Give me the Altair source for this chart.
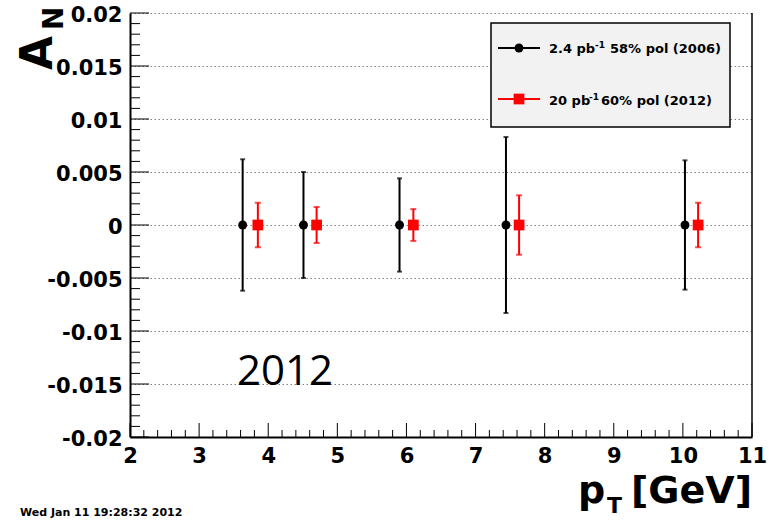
import altair as alt
import pandas as pd

# ---- data ----
pt_2006 = [3.63, 4.51, 5.90, 7.44, 10.03]
an_2006 = [0.0, 0.0, 0.0, 0.0, 0.0]
err_2006 = [0.0062, 0.0050, 0.0044, 0.0083, 0.0061]

pt_2012 = [3.85, 4.70, 6.10, 7.63, 10.22]
an_2012 = [0.0, 0.0, 0.0, 0.0, 0.0]
err_2012 = [0.0021, 0.0017, 0.0015, 0.0028, 0.0021]

x_major = [2, 3, 4, 5, 6, 7, 8, 9, 10, 11]
y_major = [-0.02, -0.015, -0.01, -0.005, 0, 0.005, 0.01, 0.015, 0.02]
x_minor = [round(2 + 0.2 * i, 1) for i in range(46) if i % 5]
y_minor = [round(-0.02 + 0.001 * i, 3) for i in range(41) if i % 5]

legend_2006 = ["2.4 pb", "-1", "58% pol (2006)"]
legend_2012 = ["20 pb", "-1", "60% pol (2012)"]

W, H = 622, 424
FONT = "DejaVu Sans"

d6 = pd.DataFrame({"x": pt_2006, "y": an_2006,
                   "lo": [a - e for a, e in zip(an_2006, err_2006)],
                   "hi": [a + e for a, e in zip(an_2006, err_2006)]})
d12 = pd.DataFrame({"x": pt_2012, "y": an_2012,
                    "lo": [a - e for a, e in zip(an_2012, err_2012)],
                    "hi": [a + e for a, e in zip(an_2012, err_2012)]})
one = pd.DataFrame({"k": [0]})

xs = alt.Scale(domain=[2, 11], nice=False, zero=False)
ys = alt.Scale(domain=[-0.02, 0.02], nice=False, zero=False)

xaxis = alt.Axis(values=x_major, ticks=False, title=None, grid=False,
                 labelFont=FONT, labelFontWeight="bold", labelFontSize=21,
                 labelColor="black", labelPadding=8, labelFlush=False,
                 labelOverlap=False, labelExpr="'' + datum.value",
                 domainColor="black", domainWidth=2)
yaxis = alt.Axis(values=y_major, ticks=False, title=None, grid=True,
                 gridColor="#808080", gridDash=[1.5, 2.5], gridWidth=1,
                 labelFont=FONT, labelFontWeight="bold", labelFontSize=21,
                 labelColor="black", labelPadding=8, labelFlush=False,
                 labelOffset=2,
                 labelOverlap=False, labelExpr="'' + datum.value",
                 domainColor="black", domainWidth=2)

X = lambda f="x": alt.X(f"{f}:Q", scale=xs, axis=xaxis)
Y = lambda f="y": alt.Y(f"{f}:Q", scale=ys, axis=yaxis)


def txt(s, x, y, size, weight="bold", font=FONT, angle=0, align="left", color="black"):
    kw = dict(text=s, font=font, fontWeight=weight, fontSize=size, align=align,
              baseline="alphabetic", color=color)
    if angle:
        kw["angle"] = angle
    return alt.Chart(one).mark_text(**kw).encode(x=alt.value(x), y=alt.value(y))


layers = []

# minor / major ticks drawn inside the frame
layers.append(alt.Chart(pd.DataFrame({"y": y_major})).mark_rule(color="black", strokeWidth=1)
              .encode(y=Y(), x=alt.value(0), x2=alt.value(19)))
layers.append(alt.Chart(pd.DataFrame({"y": y_minor})).mark_rule(color="black", strokeWidth=1)
              .encode(y=Y(), x=alt.value(0), x2=alt.value(10)))
layers.append(alt.Chart(pd.DataFrame({"x": x_major})).mark_rule(color="black", strokeWidth=1)
              .encode(x=X(), y=alt.value(H), y2=alt.value(H - 14)))
layers.append(alt.Chart(pd.DataFrame({"x": x_minor})).mark_rule(color="black", strokeWidth=1)
              .encode(x=X(), y=alt.value(H), y2=alt.value(H - 7)))

# right frame edge
layers.append(alt.Chart(one).mark_rule(color="black", strokeWidth=1.5)
              .encode(x=alt.value(W), y=alt.value(0), y2=alt.value(H)))

# error bars + caps + markers
for d, col, cap, shape, size in [(d6, "black", 5, "circle", 80), (d12, "#ff0000", 6, "square", 115)]:
    layers.append(alt.Chart(d).mark_rule(color=col, strokeWidth=2)
                  .encode(x=X(), y=Y("lo"), y2="hi:Q"))
    layers.append(alt.Chart(d).mark_tick(color=col, orient="horizontal", size=cap, thickness=2)
                  .encode(x=X(), y=Y("hi")))
    layers.append(alt.Chart(d).mark_tick(color=col, orient="horizontal", size=cap, thickness=2)
                  .encode(x=X(), y=Y("lo")))
    layers.append(alt.Chart(d).mark_point(shape=shape, filled=True, size=size, color=col, opacity=1)
                  .encode(x=X(), y=Y()))

# legend box
layers.append(alt.Chart(one).mark_rect(fill="#f2f2f2", stroke="black", strokeWidth=1.5)
              .encode(x=alt.value(361), x2=alt.value(600), y=alt.value(10), y2=alt.value(114)))
layers.append(alt.Chart(one).mark_rule(color="black", strokeWidth=2)
              .encode(x=alt.value(368), x2=alt.value(410), y=alt.value(35)))
layers.append(alt.Chart(one).mark_point(shape="circle", filled=True, size=80, color="black", opacity=1)
              .encode(x=alt.value(389), y=alt.value(35)))
layers.append(alt.Chart(one).mark_rule(color="#ff0000", strokeWidth=2)
              .encode(x=alt.value(368), x2=alt.value(410), y=alt.value(86)))
layers.append(alt.Chart(one).mark_point(shape="square", filled=True, size=115, color="#ff0000", opacity=1)
              .encode(x=alt.value(389), y=alt.value(86)))
layers.append(txt(legend_2006[0], 419, 40, 13))
layers.append(txt(legend_2006[1], 465, 35, 9))
layers.append(txt(legend_2006[2], 480, 40, 13))
layers.append(txt(legend_2012[0], 419, 92, 13))
layers.append(txt(legend_2012[1], 459, 87, 9))
layers.append(txt(legend_2012[2], 471, 92, 13))

# axis titles and annotations
layers.append(txt("A", -78, 57, 44, angle=270))
layers.append(txt("N", -67, 17, 28, angle=270))
layers.append(txt("p", 448, 490, 38))
layers.append(txt("T", 477, 500, 22))
layers.append(txt("[GeV]", 622, 490, 38, align="right"))
layers.append(txt("2012", 107, 372, 42, weight="normal", font="Open Sans"))
layers.append(txt("Wed Jan 11 19:28:32 2012", -110, 503, 11))

chart = (alt.layer(*layers)
         .properties(width=W, height=H, background="white",
                     padding={"left": 130, "top": 13, "right": 776 - 130 - W, "bottom": 521 - 13 - H},
                     autosize=alt.AutoSizeParams(type="none"))
         .configure_view(stroke=None))

chart.save("out.html", embed_options={"renderer": "svg", "actions": False})
